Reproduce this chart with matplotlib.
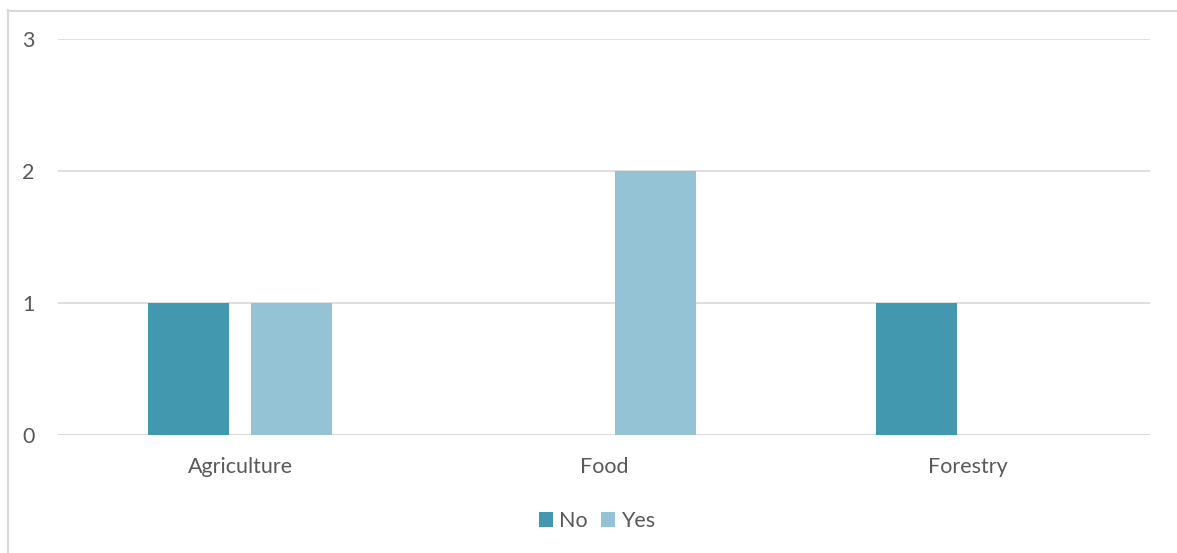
import matplotlib
matplotlib.use("Agg")
import matplotlib.pyplot as plt
from matplotlib.lines import Line2D
from matplotlib.patches import Patch
import numpy as np

categories = ["Agriculture", "Food", "Forestry"]
series_names = ["No", "Yes"]
no_values = [1, 0, 1]
yes_values = [1, 2, 0]
y_ticks = [0, 1, 2, 3]

colors = {"No": "#4298AF", "Yes": "#93C3D4"}
text_color = "#595959"
grid_color = "#D9D9D9"

plt.rcParams["font.family"] = ["Lato", "DejaVu Sans"]

W, H = 1177, 553
fig = plt.figure(figsize=(W / 100, H / 100), dpi=100)
ax = fig.add_axes([58 / W, 1 - 435 / H, 1092 / W, (435 - 39) / H])

x = np.arange(len(categories))
width = 0.223
offset = 0.1425
ax.bar(x - offset, no_values, width, color=colors["No"], zorder=3)
ax.bar(x + offset, yes_values, width, color=colors["Yes"], zorder=3)

ax.set_xlim(-0.5, len(categories) - 0.5)
ax.set_ylim(0, 3)
ax.set_yticks(y_ticks)
ax.set_yticklabels([str(v) for v in y_ticks])
ax.set_xticks(x)
ax.set_xticklabels(categories)
ax.yaxis.grid(True, color=grid_color, linewidth=1.2, zorder=0)
ax.tick_params(axis="both", length=0, colors=text_color, labelsize=15.5)
ax.tick_params(axis="y", pad=17)
ax.tick_params(axis="x", pad=16)
for s in ax.spines.values():
    s.set_visible(False)
ax.axhline(0, color=grid_color, linewidth=1.2, zorder=2)

handles = [Patch(facecolor=colors[n], edgecolor="none") for n in series_names]
fig.legend(handles, series_names, loc="center", bbox_to_anchor=(597 / W, 1 - 521 / H),
           ncol=2, frameon=False, fontsize=15.5, handlelength=0.65, handleheight=0.65,
           handletextpad=0.25, columnspacing=0.65, labelcolor=text_color)

# chart area border on left and top edges
fig.add_artist(Line2D([7.5 / W, 7.5 / W], [0, 1 - 10 / H], transform=fig.transFigure,
                      color=grid_color, linewidth=1.5))
fig.add_artist(Line2D([7.5 / W, 1], [1 - 10.5 / H, 1 - 10.5 / H], transform=fig.transFigure,
                      color=grid_color, linewidth=1.5))

fig.savefig("out.png", dpi=100, facecolor="white")
